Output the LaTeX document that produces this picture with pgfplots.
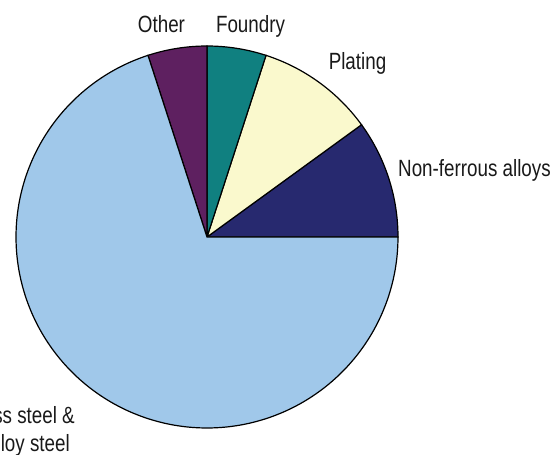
\documentclass[border=0pt]{standalone}
\usepackage{pgfplots}
\pgfplotsset{compat=1.18}
\usepackage{fontspec}
\setmainfont{Liberation Sans}[FakeStretch=0.8]
\definecolor{cNonf}{HTML}{27296F}
\definecolor{cPlat}{HTML}{FAF9CD}
\definecolor{cFoun}{HTML}{108080}
\definecolor{cOther}{HTML}{5E2060}
\definecolor{cStain}{HTML}{A0C8EA}
\begin{document}
\begin{tikzpicture}
\begin{axis}[
  at={(0pt,0pt)}, anchor=center,
  scale only axis, width=382pt, height=382pt,
  xmin=-1, xmax=1, ymin=-1, ymax=1,
  hide axis, clip=false,
]
% shares in percent: Non-ferrous 10, Plating 10, Foundry 5, Other 5, Stainless 70
% (angles = 3.6 * cumulative percent)
\addplot[draw=black, line width=1.2pt, fill=cNonf, domain=0:36, samples=40, variable=\t] ({cos(\t)},{sin(\t)}) -- (axis cs:0,0) -- cycle;
\addplot[draw=black, line width=1.2pt, fill=cPlat, domain=36:72, samples=40, variable=\t] ({cos(\t)},{sin(\t)}) -- (axis cs:0,0) -- cycle;
\addplot[draw=black, line width=1.2pt, fill=cFoun, domain=72:90, samples=30, variable=\t] ({cos(\t)},{sin(\t)}) -- (axis cs:0,0) -- cycle;
\addplot[draw=black, line width=1.2pt, fill=cOther, domain=90:108, samples=30, variable=\t] ({cos(\t)},{sin(\t)}) -- (axis cs:0,0) -- cycle;
\addplot[draw=black, line width=1.2pt, fill=cStain, domain=108:360, samples=200, variable=\t] ({cos(\t)},{sin(\t)}) -- (axis cs:0,0) -- cycle;
\end{axis}
\begin{scope}[every node/.style={font=\fontsize{23.5}{28}\selectfont, inner sep=0pt, text=black!90}]
\node[anchor=base] at (-45.5pt,204pt) {Other};
\node[anchor=base] at (43.5pt,204pt) {Foundry};
\node[anchor=base] at (150.5pt,167pt) {Plating};
\node[anchor=base west] at (191pt,60pt) {Non-ferrous alloys};
\node[anchor=base east] at (-132pt,-186pt) {Stainless steel \&};
\node[anchor=base east] at (-137pt,-214pt) {alloy steel};
\end{scope}
\pgfresetboundingbox
\useasboundingbox (-207pt,-218pt) rectangle (348pt,237pt);
\end{tikzpicture}
\end{document}
